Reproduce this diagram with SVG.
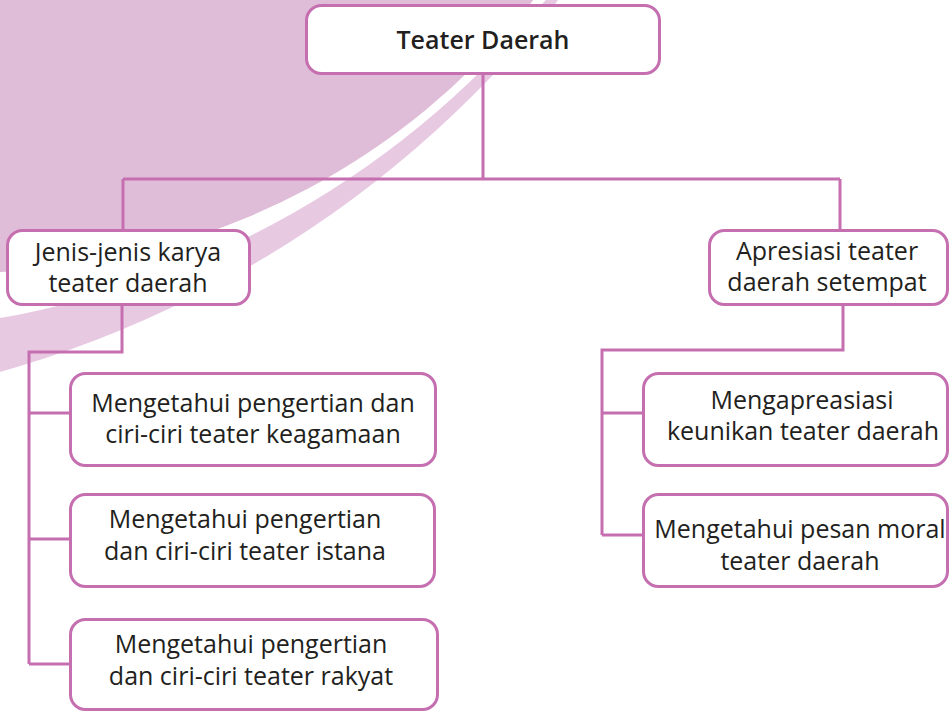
<svg xmlns="http://www.w3.org/2000/svg" width="949" height="711" viewBox="0 0 949 711">
<style>
.box{fill:#ffffff;stroke:#C56FB0;stroke-width:3}
.con{fill:none;stroke:#C56FB0;stroke-width:3}
text{font-family:"Open Sans","Noto Sans","DejaVu Sans",sans-serif;font-size:25px;fill:#231F20;text-anchor:middle}
.title{font-weight:600}
</style>
<g id="background">
<circle cx="-296.3" cy="-677.5" r="1090.5" fill="#E7C9E2"/>
<circle cx="-153" cy="-572" r="903" fill="#ffffff"/>
<circle cx="-28.2" cy="-441.9" r="714.5" fill="#DFBCD8"/>
</g>
<g id="connectors">
<path class="con" d="M483,74 V179 M123,179 H840 M123,179 V230 M840,179 V230"/>
<path class="con" d="M122,305 V352 H29 V664 M29,413 H70 M29,539 H70 M29,664 H70"/>
<path class="con" d="M843,305 V350 H602 V535 M602,413 H643 M602,535 H643"/>
</g>
<g id="n-teater">
<rect class="box" x="306.5" y="5.5" width="353" height="68" rx="15"/>
<text class="title" x="483" y="49">Teater Daerah</text>
</g>
<g id="n-jenis">
<rect class="box" x="7.5" y="230.5" width="242" height="74" rx="15"/>
<text x="128" y="261">Jenis-jenis karya</text>
<text x="128" y="292">teater daerah</text>
</g>
<g id="n-apresiasi">
<rect class="box" x="709.5" y="230.5" width="238" height="74" rx="15"/>
<text x="827" y="260">Apresiasi teater</text>
<text x="827" y="291">daerah setempat</text>
</g>
<g id="n-keagamaan">
<rect class="box" x="70.5" y="373.5" width="365" height="92" rx="15"/>
<text x="253" y="412">Mengetahui pengertian dan</text>
<text x="253" y="443">ciri-ciri teater keagamaan</text>
</g>
<g id="n-istana">
<rect class="box" x="70.5" y="494.5" width="364" height="92" rx="15"/>
<text x="245" y="528">Mengetahui pengertian</text>
<text x="245" y="560">dan ciri-ciri teater istana</text>
</g>
<g id="n-rakyat">
<rect class="box" x="70.5" y="619.5" width="367" height="90" rx="15"/>
<text x="251" y="653">Mengetahui pengertian</text>
<text x="251" y="685">dan ciri-ciri teater rakyat</text>
</g>
<g id="n-keunikan">
<rect class="box" x="643.5" y="373.5" width="304" height="92" rx="15"/>
<text x="802" y="409">Mengapreasiasi</text>
<text x="803" y="440">keunikan teater daerah</text>
</g>
<g id="n-moral">
<rect class="box" x="643.5" y="494.5" width="304" height="92" rx="15"/>
<text x="800" y="538">Mengetahui pesan moral</text>
<text x="800" y="570">teater daerah</text>
</g>
</svg>
